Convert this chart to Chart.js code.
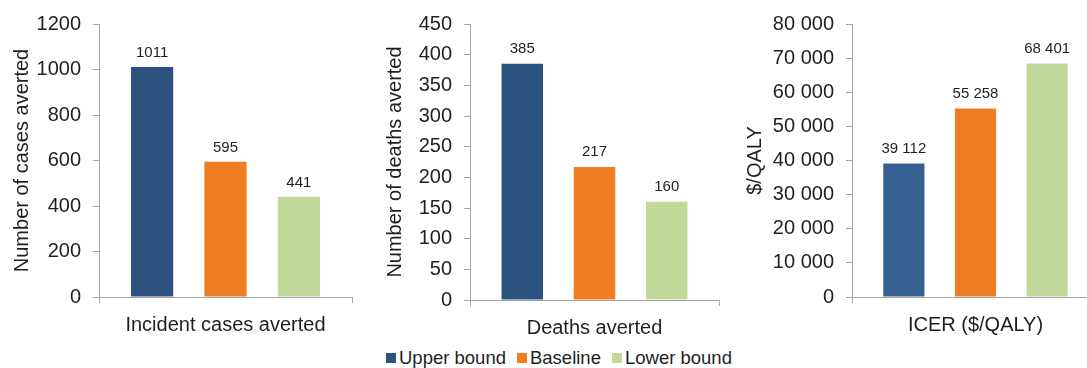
<!DOCTYPE html>
<html>
<head>
<meta charset="utf-8">
<script src="https://cdn.jsdelivr.net/npm/chart.js@4/dist/chart.umd.min.js"></script>
<style>
  html, body { margin: 0; padding: 0; background: #ffffff; }
  body { width: 1087px; height: 368px; position: relative; overflow: hidden; font-family: "Liberation Sans", Arial, sans-serif; }
  .panel { position: absolute; top: 0; }
  #legend { position: absolute; left: 386px; top: 348px; display: flex; align-items: center; font-size: 18.5px; line-height: 20px; color: #1f1f1f; white-space: nowrap; }
  #legend .item { display: flex; align-items: center; margin-right: 11px; }
  #legend .sw { width: 10px; height: 10px; margin-right: 3px; }
</style>
</head>
<body>
<div class="panel" style="left:0px;width:360px;height:340px"><canvas id="c1"></canvas></div>
<div class="panel" style="left:360px;width:360px;height:340px"><canvas id="c2"></canvas></div>
<div class="panel" style="left:720px;width:380px;height:340px"><canvas id="c3"></canvas></div>
<div id="legend"></div>
<script>
// Scenario names shared by all three panels
const seriesNames = ['Upper bound', 'Baseline', 'Lower bound'];

// Panel values
const casesAverted = [1011, 595, 441];
const deathsAverted = [385, 217, 160];
const icerValues = [39112, 55258, 68401];

// Panel category (x) labels and y-axis titles
const panelCategories = ['Incident cases averted', 'Deaths averted', 'ICER ($/QALY)'];
const panelYTitles = ['Number of cases averted', 'Number of deaths averted', '$/QALY'];

// Y-axis ranges and tick steps
const panelYMax = [1200, 450, 80000];
const panelYStep = [200, 50, 10000];

const FONT = '"Liberation Sans", Arial, sans-serif';
const TEXT = '#1f1f1f';
const AXIS = '#a6a6a6';
const orange = '#f17d22';
const green = '#c3d89b';

function spaced(v) {
  return String(Math.round(v)).replace(/\B(?=(\d{3})+(?!\d))/g, ' ');
}
function plain(v) { return String(Math.round(v)); }

// Draws each bar's value just above its top
const valueLabels = {
  id: 'valueLabels',
  afterDatasetsDraw(chart, args, opts) {
    const ctx = chart.ctx;
    ctx.save();
    ctx.font = '15px ' + FONT;
    ctx.fillStyle = TEXT;
    ctx.textAlign = 'center';
    ctx.textBaseline = 'middle';
    chart.data.datasets.forEach((ds, i) => {
      const meta = chart.getDatasetMeta(i);
      meta.data.forEach((bar, j) => {
        ctx.fillText(opts.format(ds.data[j]), bar.x, bar.y - opts.offset);
      });
    });
    ctx.restore();
  }
};

function makePanel(id, cfg) {
  const datasets = seriesNames.map((name, i) => ({
    label: name,
    data: [cfg.values[i]],
    backgroundColor: cfg.colors[i],
    borderWidth: 0,
    categoryPercentage: 0.87,
    barPercentage: 0.575
  }));
  new Chart(document.getElementById(id), {
    type: 'bar',
    data: { labels: [cfg.category], datasets },
    plugins: [valueLabels],
    options: {
      responsive: true,
      maintainAspectRatio: false,
      animation: false,
      layout: { padding: { top: cfg.top, right: cfg.right, left: 0, bottom: 0 } },
      plugins: {
        legend: { display: false },
        tooltip: { enabled: false },
        valueLabels: { format: cfg.format, offset: cfg.labelOffset }
      },
      scales: {
        x: {
          type: 'category',
          offset: true,
          grid: { display: true, offset: true, drawOnChartArea: false, drawTicks: true, tickLength: 6, color: AXIS },
          border: { display: true, color: AXIS, width: 1 },
          ticks: { font: { family: FONT, size: 20 }, color: TEXT, padding: 10 },
          afterFit(scale) { scale.height = cfg.xHeight; }
        },
        y: {
          min: 0,
          max: cfg.max,
          grid: { display: true, drawOnChartArea: false, drawTicks: true, tickLength: 6, color: AXIS },
          border: { display: true, color: AXIS, width: 1 },
          ticks: { stepSize: cfg.step, font: { family: FONT, size: 20 }, color: TEXT, padding: 12, callback: v => cfg.format(v) },
          title: { display: true, text: cfg.yTitle, font: { family: FONT, size: 20 }, color: TEXT, padding: { top: cfg.titlePad, bottom: 0 } },
          afterFit(scale) { scale.width = cfg.yWidth; }
        }
      }
    }
  });
}

makePanel('c1', {
  values: casesAverted, category: panelCategories[0], yTitle: panelYTitles[0],
  max: panelYMax[0], step: panelYStep[0], format: plain,
  colors: ['#2c527f', orange, green],
  top: 21, right: 8, yWidth: 99, xHeight: 43, titlePad: 10, labelOffset: 14
});
makePanel('c2', {
  values: deathsAverted, category: panelCategories[1], yTitle: panelYTitles[1],
  max: panelYMax[1], step: panelYStep[1], format: plain,
  colors: ['#2c527f', orange, green],
  top: 22, right: 1, yWidth: 110, xHeight: 40, titlePad: 23, labelOffset: 15
});
makePanel('c3', {
  values: icerValues, category: panelCategories[2], yTitle: panelYTitles[2],
  max: panelYMax[2], step: panelYStep[2], format: spaced,
  colors: ['#36608f', orange, green],
  top: 21, right: 1, yWidth: 132, xHeight: 43, titlePad: 23, labelOffset: 15
});

// Legend built from the same series names and colours
const legend = document.getElementById('legend');
[['#2c527f', seriesNames[0]], [orange, seriesNames[1]], [green, seriesNames[2]]].forEach(([c, name]) => {
  const item = document.createElement('span');
  item.className = 'item';
  const sw = document.createElement('span');
  sw.className = 'sw';
  sw.style.background = c;
  const t = document.createElement('span');
  t.textContent = name;
  item.appendChild(sw);
  item.appendChild(t);
  legend.appendChild(item);
});
</script>
</body>
</html>
